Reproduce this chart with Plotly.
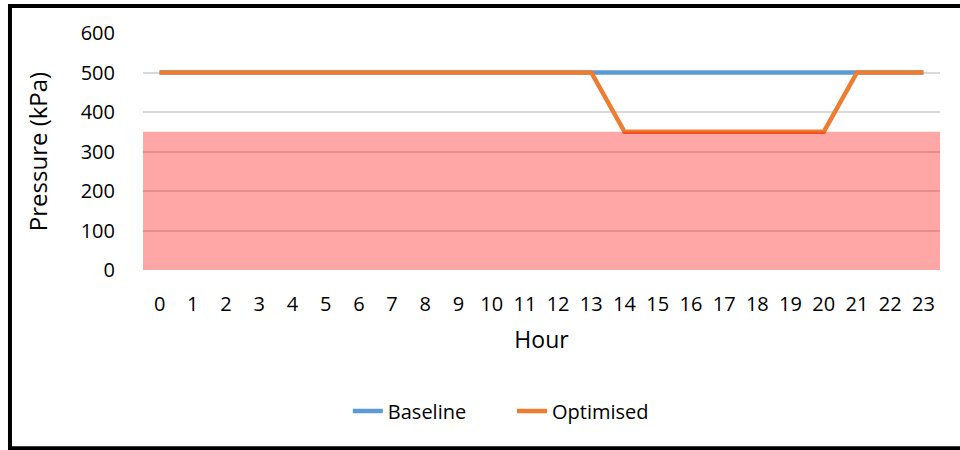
import plotly.graph_objects as go

hours = [str(h) for h in range(24)]
baseline = [500] * 24
optimised = [500] * 14 + [350] * 7 + [500] * 3
min_pressure = 350
y_ticks = [0, 100, 200, 300, 400, 500, 600]

FONT = "Open Sans"

fig = go.Figure()
fig.add_trace(go.Scatter(x=hours, y=baseline, mode="lines", name="Baseline",
                         line=dict(color="#5B9BD5", width=4.5), legend="legend"))
fig.add_trace(go.Scatter(x=hours, y=optimised, mode="lines", name="Optimised",
                         line=dict(color="#ED7D31", width=4.5), legend="legend2"))

# translucent band below the minimum pressure
fig.add_shape(type="rect", xref="paper", yref="y", x0=0, x1=1, y0=0, y1=min_pressure,
              fillcolor="rgba(255,0,0,0.345)", line_width=0, layer="above")

# outer frame
fig.add_shape(type="rect", xref="paper", yref="paper",
              x0=-0.1669, x1=1.06, y0=-0.752, y1=1.114,
              line=dict(color="black", width=4), fillcolor="rgba(0,0,0,0)")

legend_style = dict(orientation="h", yanchor="middle", y=-0.595, xanchor="left",
                    font=dict(size=20), bgcolor="rgba(0,0,0,0)")

fig.update_layout(
    width=960, height=450,
    margin=dict(l=143, r=20, t=33, b=180),
    paper_bgcolor="white", plot_bgcolor="white",
    font=dict(family=FONT, size=20, color="black"),
    showlegend=True,
    legend=dict(legend_style, x=0.257),
    legend2=dict(legend_style, x=0.463),
    xaxis=dict(type="category", range=[-0.5, 23.5], showgrid=False, showline=False,
               ticks="outside", ticklen=16, tickcolor="rgba(0,0,0,0)",
               tickfont=dict(size=20),
               title=dict(text="Hour", font=dict(size=23), standoff=15)),
    yaxis=dict(range=[0, 600], tickvals=y_ticks, showgrid=True, gridcolor="#D9D9D9",
               gridwidth=1.5, zeroline=False, showline=False,
               ticks="outside", ticklen=23, tickcolor="rgba(0,0,0,0)",
               tickfont=dict(size=20),
               title=dict(text="Pressure (kPa)", font=dict(size=24), standoff=26)),
)

fig.write_html("out.html")
